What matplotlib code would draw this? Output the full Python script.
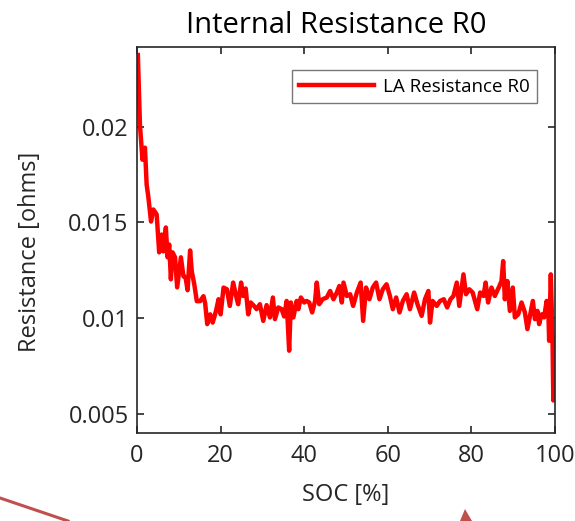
import matplotlib.pyplot as plt
from matplotlib.patches import Polygon
from matplotlib.lines import Line2D

plt.rcParams['font.family'] = ['Open Sans', 'DejaVu Sans']

# state of charge [%] and internal resistance R0 [ohms]
soc = [0.2, 0.5, 0.7, 1.3, 1.9, 2.3, 2.7, 3.35, 3.9, 4.7, 5.3, 5.9, 6.3, 6.9, 7.3,
       7.7, 8.1, 8.5, 9.1, 9.6, 10.0, 10.5, 11.1, 11.6, 12.1, 12.7, 13.1, 13.7,
       14.3, 15.1, 15.9, 16.3, 16.8, 17.5, 18.1, 18.9, 19.5, 20.0, 20.7, 21.5,
       22.2, 23.0, 23.7, 24.2, 24.9, 25.4, 26.0, 26.6, 27.2, 28.0, 28.6, 29.4,
       30.2, 31.0, 31.8, 32.5, 33.0, 33.8, 34.6, 35.2, 35.8, 36.4, 36.8, 37.4,
       38.2, 38.6, 39.2, 40.0, 40.6, 41.2, 41.9, 42.6, 43.0, 43.6, 44.4, 45.4,
       46.2, 47.0, 47.8, 48.4, 49.0, 49.4, 50.2, 51.0, 51.7, 52.6, 53.5, 54.1,
       54.8, 55.6, 56.4, 57.2, 58.0, 58.8, 59.7, 60.5, 61.2, 62.0, 62.8, 63.6,
       64.5, 65.3, 66.3, 67.1, 68.1, 68.9, 69.7, 70.1, 70.7, 71.7, 72.5, 73.4,
       74.2, 75.0, 75.7, 76.5, 77.1, 78.1, 78.7, 79.5, 80.3, 81.4, 82.1, 82.9,
       83.4, 84.0, 84.8, 85.6, 86.7, 87.2, 87.6, 88.0, 88.6, 89.2, 89.9, 90.4,
       91.2, 92.0, 92.8, 93.4, 94.0, 94.7, 95.2, 95.8, 96.2, 96.8, 97.4, 98.0,
       98.4, 98.6, 99.0, 99.4, 99.6, 100.0]
r0 = [0.02375, 0.0215, 0.0201, 0.01828, 0.01891, 0.01698, 0.01635, 0.01505,
      0.01568, 0.01542, 0.01344, 0.01437, 0.01349, 0.01474, 0.01318, 0.01385,
      0.01203, 0.01344, 0.01318, 0.01161, 0.01229, 0.01318, 0.01219, 0.01214,
      0.01146, 0.01354, 0.01245, 0.01177, 0.01089, 0.01089, 0.01115, 0.01078,
      0.00969, 0.0102, 0.00977, 0.01038, 0.01099, 0.0102, 0.0116, 0.01151,
      0.01064, 0.01186, 0.01116, 0.01073, 0.01186, 0.01116, 0.01155, 0.0102,
      0.01082, 0.01064, 0.01047, 0.01073, 0.00986, 0.01068, 0.01004, 0.01108,
      0.00995, 0.01056, 0.01047, 0.01009, 0.0109, 0.0083, 0.01082, 0.01004,
      0.0109, 0.01047, 0.01108, 0.01082, 0.0109, 0.01082, 0.0103, 0.0109,
      0.01186, 0.01073, 0.01099, 0.01108, 0.01142, 0.01099, 0.01134, 0.01168,
      0.01082, 0.01186, 0.01116, 0.01125, 0.01064, 0.01134, 0.01186, 0.00986,
      0.0116, 0.01099, 0.0116, 0.01186, 0.01099, 0.01151, 0.01177, 0.01116,
      0.01047, 0.01108, 0.0103, 0.0109, 0.01125, 0.01047, 0.01134, 0.01073,
      0.01012, 0.01099, 0.01142, 0.00977, 0.0109, 0.01064, 0.0109, 0.01099,
      0.01056, 0.01099, 0.01116, 0.01186, 0.01064, 0.01229, 0.01125, 0.01151,
      0.01134, 0.01047, 0.01134, 0.01116, 0.01186, 0.01082, 0.0116, 0.01116,
      0.01168, 0.01194, 0.01298, 0.01099, 0.01194, 0.01038, 0.0116, 0.01004,
      0.0102, 0.01082, 0.0103, 0.00943, 0.01012, 0.0109, 0.00995, 0.01038,
      0.00969, 0.0102, 0.01004, 0.0109, 0.01047, 0.00882, 0.01229, 0.00908,
      0.0057, 0.009]

xticks = [0, 20, 40, 60, 80, 100]
yticks = [0.005, 0.01, 0.015, 0.02]
ytick_labels = ['0.005', '0.01', '0.015', '0.02']

fig = plt.figure(figsize=(5.75, 5.21), dpi=100)
ax = fig.add_axes([0.2383, 0.1689, 0.7269, 0.7409])

ax.plot(soc, r0, color='#ff0000', linewidth=3.2, label='LA Resistance R0')

ax.set_xlim(0, 100)
ax.set_ylim(0.0040, 0.02417)
ax.set_xticks(xticks)
ax.set_yticks(yticks)
ax.set_yticklabels(ytick_labels)
ax.tick_params(direction='in', top=True, right=True, length=5, width=1.2,
               labelsize=17, colors='#262626')
ax.tick_params(axis='x', pad=8)
ax.tick_params(axis='y', pad=6)
for s in ax.spines.values():
    s.set_color('#262626')
    s.set_linewidth(1.2)

ax.set_title('Internal Resistance R0', fontsize=21, color='#000000',
             x=0.477, y=1.0, pad=10)
ax.set_xlabel('SOC [%]', fontsize=17, color='#262626')
ax.set_ylabel('Resistance [ohms]', fontsize=17, color='#262626')
ax.xaxis.set_label_coords(0.5, -0.13)
ax.yaxis.set_label_coords(-0.228, 0.47)

leg = ax.legend(loc='upper right', fontsize=13.5, frameon=True, fancybox=False,
                borderpad=0.4, handlelength=4.0, handletextpad=0.45,
                borderaxespad=0, bbox_to_anchor=(0.957, 0.940))
leg.get_frame().set_edgecolor('#555555')
leg.get_frame().set_linewidth(1.0)

# connector line and arrow head below the plot
fig.add_artist(Line2D([0 / 575, 68 / 575], [1 - 498 / 521, 1 - 521 / 521],
                      color='#c0504d', linewidth=2.2, transform=fig.transFigure))
fig.add_artist(Polygon([[465 / 575, 1 - 509 / 521], [460 / 575, 1 - 521 / 521],
                        [472 / 575, 1 - 521 / 521]], closed=True,
                       facecolor='#c0504d', edgecolor='none',
                       transform=fig.transFigure))

fig.savefig('out.png', dpi=100)
